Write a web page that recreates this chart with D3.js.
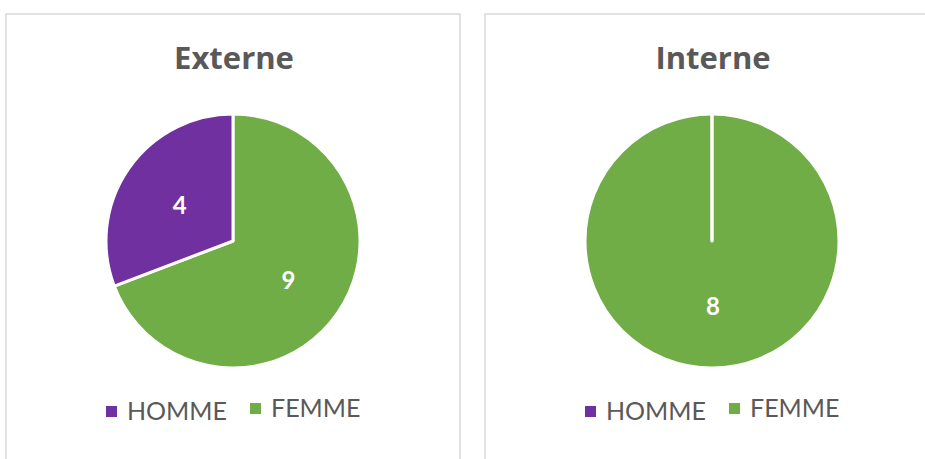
<!DOCTYPE html>
<html>
<head>
<meta charset="utf-8">
<script src="https://cdn.jsdelivr.net/npm/d3@7"></script>
<style>
  body { margin: 0; background: #fff; }
  svg { display: block; }
</style>
</head>
<body>
<div id="chart"></div>
<script>
// data
var panels = ["Externe", "Interne"];
var categories = ["HOMME", "FEMME"];
var externeValues = [4, 9];
var interneValues = [0, 8];
var seriesValues = [externeValues, interneValues];

var width = 925, height = 459;
var color = d3.scaleOrdinal().domain(categories).range(["#7030A0", "#70AD47"]);

var svg = d3.select("#chart").append("svg")
  .attr("width", width)
  .attr("height", height);

// panel frames
var frames = [{ x: 6, w: 454 }, { x: 485, w: 460 }];
var radius = 127;

// FEMME is drawn first from 12 o'clock, HOMME closes the circle
var pie = d3.pie()
  .sort(null)
  .value(function(d) { return d.value; });

var arc = d3.arc().innerRadius(0).outerRadius(radius);
var labelArc = d3.arc().innerRadius(radius * 0.52).outerRadius(radius * 0.52);

panels.forEach(function(name, p) {
  var f = frames[p];
  var cx = f.x + 227;

  svg.append("path")
    .attr("d", "M" + f.x + "," + (height + 2) + "V14H" + (f.x + f.w) + "V" + (height + 2))
    .attr("fill", "none")
    .attr("stroke", "#d9d9d9")
    .attr("stroke-width", 1.5);

  svg.append("text")
    .attr("x", cx + 1)
    .attr("y", 69)
    .attr("text-anchor", "middle")
    .attr("font-family", "'Open Sans', Lato, sans-serif")
    .attr("font-weight", "bold")
    .attr("font-size", 31)
    .attr("fill", "#595959")
    .text(name);

  var vals = seriesValues[p];
  var data = [
    { label: categories[1], value: vals[1] },
    { label: categories[0], value: vals[0] }
  ];

  var g = svg.append("g")
    .attr("transform", "translate(" + cx + ",241)");

  var arcs = pie(data);

  g.selectAll("path.slice")
    .data(arcs)
    .enter()
    .append("path")
    .attr("class", "slice")
    .attr("d", arc)
    .attr("fill", function(d) { return color(d.data.label); })
    .attr("stroke", "#fff")
    .attr("stroke-width", 3)
    .attr("stroke-linejoin", "round");

  // zero-value slice still leaves its border line from the centre
  arcs.filter(function(d) { return d.data.value === 0; }).forEach(function(d) {
    g.append("line")
      .attr("x1", 0).attr("y1", 0)
      .attr("x2", 0).attr("y2", -radius)
      .attr("stroke", "#fff")
      .attr("stroke-width", 3);
  });

  g.selectAll("text.val")
    .data(arcs.filter(function(d) { return d.data.value > 0; }))
    .enter()
    .append("text")
    .attr("class", "val")
    .attr("transform", function(d) {
      var c = labelArc.centroid(d);
      if (d.endAngle - d.startAngle > 2 * Math.PI - 0.001) c = [0, radius * 0.5];
      return "translate(" + (c[0] + 1) + "," + (c[1] + 2) + ")";
    })
    .attr("dy", "0.36em")
    .attr("text-anchor", "middle")
    .attr("font-family", "Lato, 'Open Sans', sans-serif")
    .attr("font-weight", "bold")
    .attr("font-size", 24)
    .attr("fill", "#fff")
    .text(function(d) { return d.value; });

  // legend
  var leg = svg.append("g")
    .attr("transform", "translate(" + (cx - 127) + ",0)");
  var items = [
    { label: categories[0], x: 0, sy: 406, ty: 420 },
    { label: categories[1], x: 144, sy: 403, ty: 417 }
  ];
  var it = leg.selectAll("g.item")
    .data(items)
    .enter()
    .append("g")
    .attr("class", "item")
    .attr("transform", function(d) { return "translate(" + d.x + ",0)"; });
  it.append("rect")
    .attr("x", 0)
    .attr("y", function(d) { return d.sy; })
    .attr("width", 11)
    .attr("height", 11)
    .attr("fill", function(d) { return color(d.label); });
  it.append("text")
    .attr("x", 21)
    .attr("y", function(d) { return d.ty; })
    .attr("font-family", "Lato, 'Open Sans', sans-serif")
    .attr("font-size", 25)
    .attr("fill", "#595959")
    .text(function(d) { return d.label; });
});
</script>
</body>
</html>
